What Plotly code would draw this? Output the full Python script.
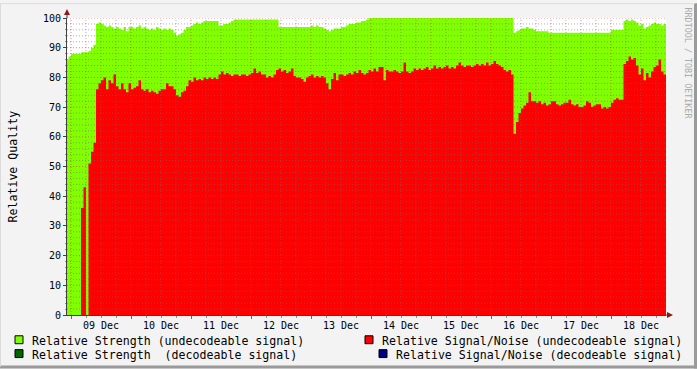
import pandas as pd
import plotly.graph_objects as go

# ---------------- data (hourly, starting 08 Dec 22:00) ----------------
start_time = "2008-12-08 22:00"
strength_undecodeable = [
    86, 87, 88, 88, 88, 88, 88.5, 88.5, 88.5, 89,
    90, 91, 98, 98.5, 98, 97.5, 97, 97.5, 97, 96.5,
    97, 96.5, 96, 97, 95.5, 97, 97, 96.5, 97, 97.5,
    96.5, 97, 96.5, 96, 96.5, 96, 97, 96.5, 96, 96.5,
    96, 96.5, 96, 95, 94, 94.5, 95, 96, 97, 97,
    97.5, 98, 98.5, 98, 98.5, 99, 99, 99, 99, 99,
    99, 97.5, 97.5, 98, 98, 98.5, 99, 99.5, 99.5, 99.5,
    99.5, 99.5, 99.5, 99.5, 99.5, 99.5, 99.5, 99.5, 99.5, 99.5,
    99.5, 99.5, 99.5, 99.5, 99.5, 97, 97, 97, 97, 97,
    97, 97, 97, 97, 97, 97, 97, 97, 97.5, 97,
    97.5, 97, 97, 96.5, 96, 95.5, 96, 96.5, 96.5, 96.5,
    97, 97, 97.5, 98, 98, 98, 98.5, 98.5, 99, 99,
    99.5, 100, 100, 100, 100, 100, 100, 100, 100, 100,
    100, 100, 100, 100, 100, 100, 100, 100, 100, 100,
    100, 100, 100, 100, 100, 100, 100, 100, 100, 100,
    100, 100, 100, 100, 100, 100, 100, 100, 100, 100,
    100, 100, 100, 100, 100, 100, 100, 100, 100, 100,
    100, 100, 100, 100, 100, 100, 100, 100, 100, 95,
    95.5, 96, 96.5, 96.5, 97, 96.5, 96.5, 96, 95.5, 95.5,
    95.5, 95.5, 95.5, 95, 95, 95, 95, 95, 95, 95,
    95, 95, 95, 95, 95, 95, 95, 95, 95, 95,
    95, 95, 95, 95, 95, 95, 95, 95, 96, 96,
    96, 96, 96, 99, 99.5, 99, 99.5, 99, 98.5, 97.5,
    98, 96.5, 97, 97.5, 98, 98.5, 98, 98, 97.5, 98,
    98,
]
snr_undecodeable = [
    0, 0, 0, 0, 0, 0, 36, 43, 0, 51,
    55, 58, 76, 78, 79, 80, 76, 79, 78, 81,
    77, 76, 78, 76, 75, 78, 76, 76.5, 77, 79,
    76, 75.5, 76, 75, 75.5, 75, 74.5, 75.5, 76, 76,
    78, 77, 77, 76, 74, 73.5, 75, 75.5, 77, 79,
    78.5, 80, 79, 79.5, 79, 80, 79.5, 80, 79.5, 80,
    79.5, 81, 82, 81, 81.5, 81, 80.5, 81, 81, 80.5,
    81, 81, 80.5, 81, 81.5, 83, 81.5, 82, 81, 81,
    80, 80.5, 80, 81, 82.5, 83, 82, 82.5, 81.5, 82,
    83, 80.5, 80, 80, 79.5, 78.5, 80, 80.5, 81, 80,
    80.5, 80, 80.5, 80, 78, 76, 79.5, 81.5, 79, 81,
    81, 80.5, 81, 81.5, 81, 82, 81.5, 82.5, 81.5, 81,
    81.5, 82.5, 82, 83, 82, 83.5, 83.5, 79, 82.5, 82,
    82, 82.5, 82, 81.5, 82, 85, 82, 81.5, 82, 83,
    82.5, 83, 82.5, 83, 83.5, 82.5, 83, 84, 83, 83.5,
    83, 83.5, 84, 83, 83.5, 83, 84, 85, 84, 83.5,
    84, 84, 83.5, 84, 84.5, 84, 84.5, 84, 85, 84,
    84.5, 85.5, 84.5, 84, 83.5, 82.5, 82, 82.5, 81, 61,
    65, 68, 69.5, 70.5, 71.5, 75, 72, 72, 71.5, 72,
    71, 71.5, 70.5, 71, 72, 72, 71, 70.5, 71, 71.5,
    71.5, 72.5, 71, 70.5, 71, 70, 70, 70.5, 72, 71.5,
    70, 70.5, 71, 71, 69.5, 70, 69.5, 70, 71.5, 72.5,
    73, 72.5, 72.5, 84.5, 85.5, 87, 86, 86.5, 84, 81,
    83, 79, 81.5, 80, 82, 83.5, 84, 86, 82, 81,
    80,
]
y_ticks = list(range(0, 101, 10))
legend_labels = [
    "Relative Strength (undecodeable signal)",
    "Relative Strength\u00a0 (decodeable signal)",
    "Relative Signal/Noise (undecodeable signal)",
    "Relative Signal/Noise (decodeable signal)",
]
y_title = "Relative Quality"
watermark = "RRDTOOL / TOBI OETIKER"
x_range = ["2008-12-08 22:24", "2008-12-18 22:00"]

# ---------------- styles ----------------
GREEN = "#80FF00"
RED = "#FF0000"
DKGREEN = "#006600"
NAVY = "#000080"
FONT = "DejaVu Sans Mono"
W, H = 697, 369
L, R, T, B = 67, 31, 15, 54
PW, PH = W - L - R, H - T - B


def PX(x):
    return (x - L) / PW


def PY(y):
    return (H - B - y) / PH


times = pd.date_range(start=start_time, periods=len(strength_undecodeable), freq="h")

fig = go.Figure()
fig.add_trace(go.Scatter(x=times, y=strength_undecodeable, mode="lines", line_shape="hv",
                         line=dict(width=0, color=GREEN), fill="tozeroy", fillcolor=GREEN,
                         name=legend_labels[0], showlegend=False, hoverinfo="skip"))
fig.add_trace(go.Scatter(x=times, y=snr_undecodeable, mode="lines", line_shape="hv",
                         line=dict(width=0, color=RED), fill="tozeroy", fillcolor=RED,
                         name=legend_labels[2], showlegend=False, hoverinfo="skip"))

shapes = []
MINOR = "rgba(110,110,110,0.55)"
MAJOR = "rgba(225,50,50,0.6)"
# horizontal grid
for v in range(2, 101, 2):
    if v % 10:
        shapes.append(dict(type="line", xref="paper", yref="y", x0=0, x1=1, y0=v, y1=v,
                           line=dict(color=MINOR, width=1, dash="1px,2px"), layer="above"))
for v in range(10, 101, 10):
    shapes.append(dict(type="line", xref="paper", yref="y", x0=0, x1=1, y0=v, y1=v,
                       line=dict(color=MAJOR, width=1, dash="1px,2px"), layer="above"))
# vertical grid
grid_times = pd.date_range("2008-12-09 00:00", "2008-12-18 18:00", freq="6h")
for t in grid_times:
    major = t.hour == 0
    shapes.append(dict(type="line", xref="x", yref="paper", x0=t, x1=t, y0=0, y1=1,
                       line=dict(color=MAJOR if major else MINOR, width=1, dash="1px,2px"),
                       layer="above"))
# axis extensions and arrows
shapes.append(dict(type="line", xref="paper", yref="paper", x0=PX(67), x1=PX(67), y0=1, y1=PY(10),
                   line=dict(color="#404040", width=1)))
shapes.append(dict(type="line", xref="paper", yref="paper", x0=1, x1=PX(670), y0=0, y1=0,
                   line=dict(color="#404040", width=1)))
shapes.append(dict(type="path", xref="paper", yref="paper",
                   path=f"M {PX(67)} {PY(6)} L {PX(64)} {PY(12)} L {PX(70)} {PY(12)} Z",
                   fillcolor="#8B1A1A", line=dict(width=0)))
shapes.append(dict(type="path", xref="paper", yref="paper",
                   path=f"M {PX(673)} {PY(315)} L {PX(667)} {PY(312)} L {PX(667)} {PY(318)} Z",
                   fillcolor="#8B1A1A", line=dict(width=0)))
# frame
shapes.append(dict(type="line", xref="paper", yref="paper", x0=PX(0), x1=PX(697), y0=PY(367.5), y1=PY(367.5),
                   line=dict(color="#9A9A9A", width=3)))
shapes.append(dict(type="line", xref="paper", yref="paper", x0=PX(695.5), x1=PX(695.5), y0=PY(0), y1=PY(369),
                   line=dict(color="#9A9A9A", width=3)))
shapes.append(dict(type="line", xref="paper", yref="paper", x0=PX(0), x1=PX(695), y0=PY(0.5), y1=PY(0.5),
                   line=dict(color="#DCDCDC", width=1)))
shapes.append(dict(type="line", xref="paper", yref="paper", x0=PX(0.5), x1=PX(0.5), y0=PY(0), y1=PY(367),
                   line=dict(color="#DCDCDC", width=1)))

# legend squares and text
legend_items = [
    (15, 336, GREEN, 30, legend_labels[0]),
    (15, 350, DKGREEN, 30, legend_labels[1]),
    (365, 336, RED, 380, legend_labels[2]),
    (379, 350, NAVY, 394, legend_labels[3]),
]
annotations = []
for sx, sy, col, tx, label in legend_items:
    shapes.append(dict(type="rect", xref="paper", yref="paper",
                       x0=PX(sx), x1=PX(sx + 8), y0=PY(sy), y1=PY(sy + 8),
                       fillcolor=col, line=dict(color="#000000", width=1)))
    annotations.append(dict(xref="paper", yref="paper", x=PX(tx), y=PY(sy + 5),
                            xanchor="left", yanchor="middle", showarrow=False, text=label,
                            font=dict(family=FONT, size=11.6, color="#000000")))

annotations.append(dict(xref="paper", yref="paper", x=PX(12), y=PY(165), text=y_title,
                        textangle=-90, showarrow=False, xanchor="center", yanchor="middle",
                        font=dict(family=FONT, size=11.6, color="#000000")))
annotations.append(dict(xref="paper", yref="paper", x=PX(688), y=PY(61), text=watermark,
                        textangle=90, showarrow=False, xanchor="center", yanchor="middle",
                        font=dict(family=FONT, size=8.4, color="#AAAAAA")))

fig.update_layout(
    width=W, height=H,
    margin=dict(l=L, r=R, t=T, b=B),
    paper_bgcolor="#F3F3F3", plot_bgcolor="#FFFFFF",
    showlegend=False,
    shapes=shapes, annotations=annotations,
    xaxis=dict(type="date", range=x_range, dtick=86400000, tick0="2008-12-09",
               tickformat="%d %b", ticklabelmode="period", showgrid=False, zeroline=False,
               ticks="outside", ticklen=3, tickcolor="#C04040", ticklabelstandoff=-2,
               minor=dict(dtick=6 * 3600000, ticks="outside", ticklen=2, tickcolor="#909090", showgrid=False),
               showline=True, linecolor="#404040", linewidth=1,
               tickfont=dict(family=FONT, size=10, color="#000000")),
    yaxis=dict(range=[0, 100], tickvals=y_ticks, showgrid=False, zeroline=False,
               ticks="outside", ticklen=3, tickcolor="#404040",
               minor=dict(dtick=2, ticks="outside", ticklen=1, tickcolor="#909090", showgrid=False),
               showline=True, linecolor="#404040", linewidth=1,
               tickfont=dict(family=FONT, size=10, color="#000000")),
)

fig.write_html("out.html")
